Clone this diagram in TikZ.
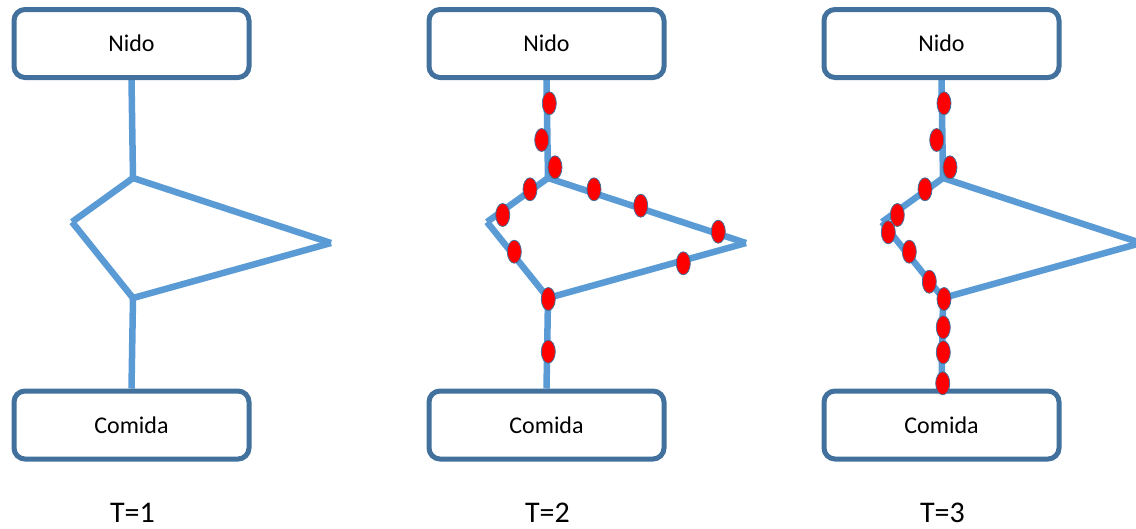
\documentclass[tikz,border=0pt]{standalone}
\usepackage{fontspec}
\setmainfont{Carlito}
\usetikzlibrary{shapes.geometric,backgrounds}
\definecolor{trail}{HTML}{5B9BD5}
\definecolor{boxedge}{HTML}{41719C}
\tikzset{
  place/.style={draw=boxedge, line width=5pt, rounded corners=11pt, fill=white,
    minimum width=235pt, minimum height=68pt, inner sep=0pt,
    font=\fontsize{24}{28}\selectfont},
  trailseg/.style={draw=trail, line width=6.5pt},
  ant/.style={ellipse, draw=boxedge, line width=0.8pt, fill=red,
    minimum width=14pt, minimum height=23pt, inner sep=0pt},
  stamp/.style={inner sep=0pt, font=\fontsize{30}{34}\selectfont}
}
\begin{document}
\begin{tikzpicture}[x=1pt,y=-1pt]
\useasboundingbox (0,0) rectangle (1136,528);

% three snapshots of the same nest/food network
\foreach \i/\ox in {1/0,2/415,3/810} {
  \begin{scope}[xshift=\ox pt]
    \node[place] (nest\i) at (131.5,43.5) {\raisebox{-1.5pt}{Nido}};
    \node[place] (food\i) at (131.5,425) {\raisebox{-4.5pt}{Comida}};
    \coordinate (up\i)   at (133,178);
    \coordinate (left\i) at (72,222);
    \coordinate (low\i)  at (133,298);
    \coordinate (tip\i)  at (331,243);
    \node[stamp] (time\i) at (132.5,512.5) {T=\i};
    \begin{scope}[on background layer]
      \draw[trailseg] (nest\i.south) -- (up\i);
      \draw[trailseg] (up\i) -- (left\i);
      \draw[trailseg] (left\i) -- (low\i);
      \draw[trailseg] (up\i) -- (tip\i);
      \draw[trailseg] (tip\i) -- (low\i);
      \draw[trailseg] (low\i) -- (food\i.north);
    \end{scope}
  \end{scope}
}

% ants spread over both routes
\foreach \k/\p in {1/{549.3,103.3},2/{541.7,140},3/{555,167.3},4/{530,189.3},
                   5/{502.7,215},6/{514.3,251.7},7/{548.3,299},8/{548.3,351.7},
                   9/{594,189.3},10/{640.7,205.7},11/{718.3,231.7},12/{683.3,263.3}}
  \node[ant] (antb\k) at (\p) {};

% ants gathered on the short route
\foreach \k/\p in {1/{944,103.3},2/{936.7,140},3/{950,167.3},4/{925,189.3},
                   5/{897.3,215},6/{888.3,232.3},7/{909.3,251.7},8/{929.3,281.7},
                   9/{944,299},10/{943.3,327.3},11/{943.3,352.3},12/{942.7,383.3}}
  \node[ant] (antc\k) at (\p) {};
\end{tikzpicture}
\end{document}
